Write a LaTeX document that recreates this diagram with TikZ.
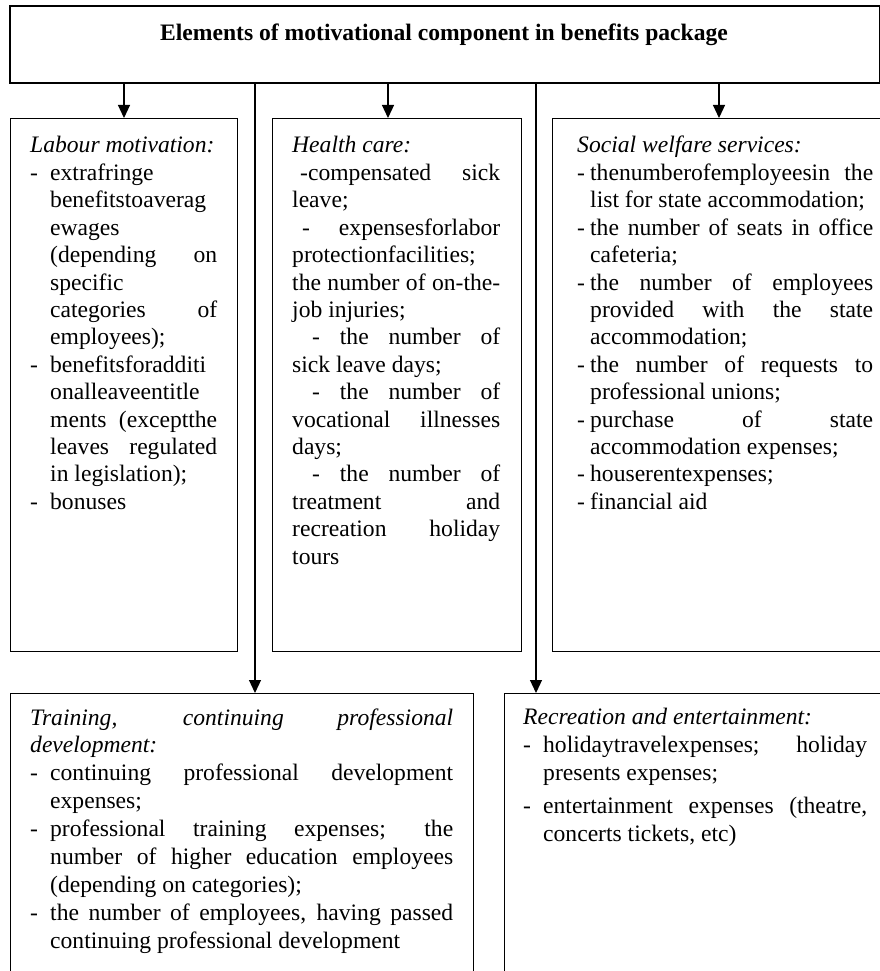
\documentclass[tikz,border=0pt]{standalone}
\usepackage{fontspec}
\setmainfont{Liberation Serif}
\usetikzlibrary{arrows.meta}
\newlength\hg
\newcommand\lnR[1]{\hbox to\linewidth{#1\hfil}}
\newcommand\lnJ[1]{\hbox to\linewidth{#1}}
\newcommand\dsh{\makebox[\hg][l]{-}}
\newcommand\cnt{\hspace*{\hg}}
\tikzset{
  box/.style={draw, line width=1.4pt, anchor=north west, inner sep=0pt},
  txt/.style={anchor=base west, inner sep=0pt},
  arr/.style={line width=1.2pt, -{Triangle[length=13pt,width=12pt]}},
}
\begin{document}
\begin{tikzpicture}[x=1pt,y=-1pt]
\useasboundingbox (0,0) rectangle (880,971);
\clip (0,0) rectangle (880,971);
% boxes
\node[box, line width=1.6pt, minimum width=870pt, minimum height=77pt] (top) at (9,5) {};
\node[anchor=base, inner sep=0pt] (title) at (444,41) {\fontsize{23.6}{27}\selectfont\bfseries Elements of motivational component in benefits package};
\node[box, minimum width=227pt, minimum height=533pt] (b1) at (10,118) {};
\node[box, minimum width=249pt, minimum height=533pt] (b2) at (272,118) {};
\node[box, minimum width=348pt, minimum height=533pt] (b3) at (552,118) {};
\node[box, minimum width=463pt, minimum height=300pt] (c1) at (10,693) {};
\node[box, minimum width=390pt, minimum height=300pt] (c2) at (504,693) {};
% connectors
\coordinate (p1) at (124,118);
\coordinate (p2) at (388,118);
\coordinate (p3) at (719,118);
\coordinate (p4) at (255,693);
\coordinate (p5) at (536,693);
\draw[arr] (top.south -| p1) -- (p1);
\draw[arr] (top.south -| p2) -- (p2);
\draw[arr] (top.south -| p3) -- (p3);
\draw[arr] (top.south -| p4) -- (p4);
\draw[arr] (top.south -| p5) -- (p5);
% texts
\node[txt] (t1) at (30,153) {\begin{minipage}[t]{187pt}\fontsize{23.6}{27.4}\selectfont\setlength\hg{20pt}%
\lnR{\itshape Labour motivation:}
\lnR{\dsh extrafringe}
\lnR{\cnt benefitstoaverag}
\lnR{\cnt ewages}
\lnJ{\cnt (depending on}
\lnR{\cnt specific}
\lnJ{\cnt categories of}
\lnR{\cnt employees);}
\lnR{\dsh benefitsforadditi}
\lnR{\cnt onalleaveentitle}
\lnJ{\cnt ments (exceptthe}
\lnJ{\cnt leaves regulated}
\lnR{\cnt in legislation);}
\lnR{\dsh bonuses}
\end{minipage}};
\node[txt] (t2) at (292,153) {\begin{minipage}[t]{208pt}\fontsize{23.6}{27.4}\selectfont
\lnR{\itshape Health care:}
\lnJ{\hspace*{8pt}-compensated sick}
\lnR{leave;}
\lnJ{\hspace*{10pt}- expensesforlabor}
\lnR{protectionfacilities;}
\lnJ{the number of on-the-}
\lnR{job injuries;}
\lnJ{\hspace*{20pt}- the number of}
\lnR{sick leave days;}
\lnJ{\hspace*{20pt}- the number of}
\lnJ{vocational illnesses}
\lnR{days;}
\lnJ{\hspace*{20pt}- the number of}
\lnJ{treatment and}
\lnJ{recreation holiday}
\lnR{tours}
\end{minipage}};
\node[txt] (t3) at (577,153) {\begin{minipage}[t]{296pt}\fontsize{23.6}{27.4}\selectfont\setlength\hg{13pt}%
\lnR{\itshape Social welfare services:}
\lnJ{\dsh thenumberofemployeesin the}
\lnR{\cnt list for state accommodation;}
\lnJ{\dsh the number of seats in office}
\lnR{\cnt cafeteria;}
\lnJ{\dsh the number of employees}
\lnJ{\cnt provided with the state}
\lnR{\cnt accommodation;}
\lnJ{\dsh the number of requests to}
\lnR{\cnt professional unions;}
\lnJ{\dsh purchase of state}
\lnR{\cnt accommodation expenses;}
\lnR{\dsh houserentexpenses;}
\lnR{\dsh financial aid}
\end{minipage}};
\node[txt] (t4) at (30,725) {\begin{minipage}[t]{423pt}\fontsize{23.6}{27.9}\selectfont\setlength\hg{20pt}%
\lnJ{\itshape Training, continuing professional}
\lnR{\itshape development:}
\lnJ{\dsh continuing professional development}
\lnR{\cnt expenses;}
\lnJ{\dsh professional training expenses; the}
\lnJ{\cnt number of higher education employees}
\lnR{\cnt (depending on categories);}
\lnJ{\dsh the number of employees, having passed}
\lnR{\cnt continuing professional development}
\end{minipage}};
\node[txt] (t5) at (523,724) {\begin{minipage}[t]{344pt}\fontsize{23.6}{28}\selectfont\setlength\hg{20pt}%
\lnR{\itshape Recreation and entertainment:}
\lnJ{\dsh holidaytravelexpenses; holiday}
\lnR{\cnt presents expenses;}
\vskip 5pt
\lnJ{\dsh entertainment expenses (theatre,}
\lnR{\cnt concerts tickets, etc)}
\end{minipage}};
\end{tikzpicture}
\end{document}
